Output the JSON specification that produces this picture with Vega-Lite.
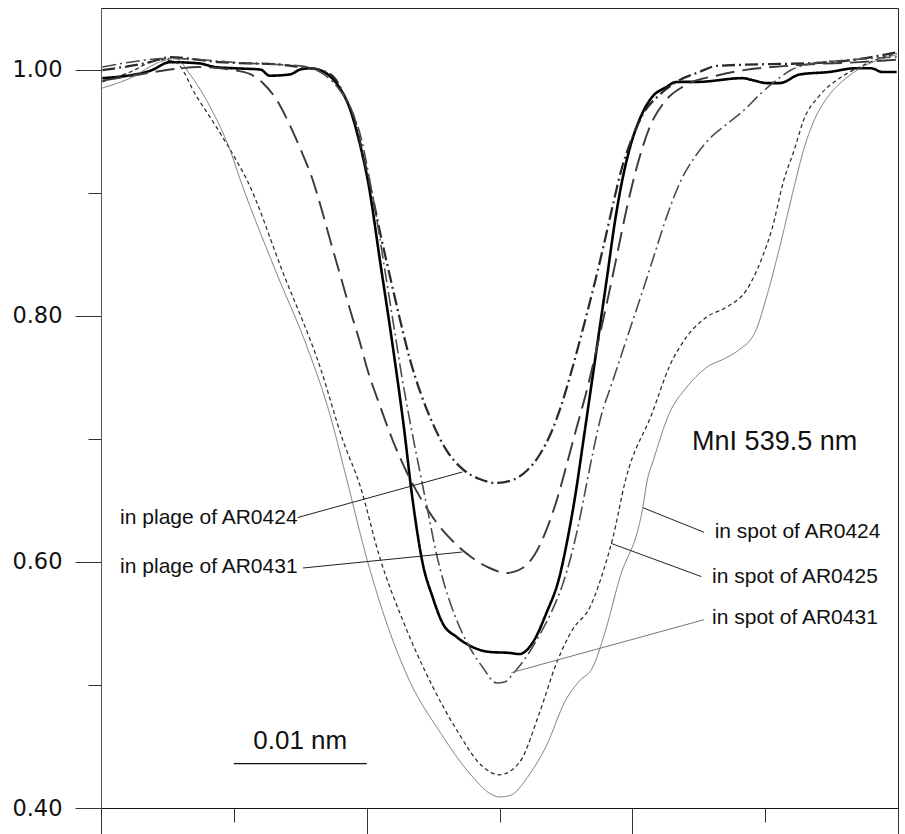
{
  "$schema": "https://vega.github.io/schema/vega-lite/v6.json",
  "width": 797,
  "height": 800,
  "autosize": {"type": "none"},
  "padding": {"left": 101, "top": 8, "right": 7, "bottom": 26},
  "background": "white",
  "config": {"view": {"stroke": "#222", "strokeWidth": 1}, "axis": {"grid": false}},
  "datasets": {
    "curves": [
      {"s":"quiet","x":-29.9,"y":0.993},{"s":"quiet","x":-26.3,"y":0.999},{"s":"quiet","x":-24.8,"y":1.006},{"s":"quiet","x":-22.6,"y":1.005},{"s":"quiet","x":-21.4,"y":1.002},{"s":"quiet","x":-19.9,"y":1.001},{"s":"quiet","x":-18.0,"y":1.0},{"s":"quiet","x":-17.3,"y":0.995},{"s":"quiet","x":-15.8,"y":0.996},{"s":"quiet","x":-15.0,"y":1.0},{"s":"quiet","x":-14.3,"y":1.001},{"s":"quiet","x":-13.53,"y":0.9996},{"s":"quiet","x":-12.78,"y":0.9948},{"s":"quiet","x":-12.03,"y":0.985},{"s":"quiet","x":-11.28,"y":0.9688},{"s":"quiet","x":-10.68,"y":0.9468},{"s":"quiet","x":-10.23,"y":0.9265},{"s":"quiet","x":-9.92,"y":0.9103},{"s":"quiet","x":-8.95,"y":0.8412},{"s":"quiet","x":-8.05,"y":0.7762},{"s":"quiet","x":-7.22,"y":0.7112},{"s":"quiet","x":-6.54,"y":0.6503},{"s":"quiet","x":-5.79,"y":0.5991},{"s":"quiet","x":-5.04,"y":0.5715},{"s":"quiet","x":-4.29,"y":0.5503},{"s":"quiet","x":-3.23,"y":0.539},{"s":"quiet","x":-2.03,"y":0.5308},{"s":"quiet","x":-0.75,"y":0.5268},{"s":"quiet","x":0.75,"y":0.526},{"s":"quiet","x":1.5,"y":0.5251},{"s":"quiet","x":2.48,"y":0.5341},{"s":"quiet","x":3.53,"y":0.5584},{"s":"quiet","x":4.51,"y":0.5877},{"s":"quiet","x":5.11,"y":0.6178},{"s":"quiet","x":5.71,"y":0.6543},{"s":"quiet","x":6.32,"y":0.699},{"s":"quiet","x":6.92,"y":0.7437},{"s":"quiet","x":7.52,"y":0.7884},{"s":"quiet","x":8.12,"y":0.8331},{"s":"quiet","x":8.65,"y":0.8737},{"s":"quiet","x":9.17,"y":0.9062},{"s":"quiet","x":9.77,"y":0.9346},{"s":"quiet","x":10.53,"y":0.959},{"s":"quiet","x":11.43,"y":0.9769},{"s":"quiet","x":12.56,"y":0.9858},{"s":"quiet","x":13.31,"y":0.9899},{"s":"quiet","x":15.0,"y":0.99},{"s":"quiet","x":18.3,"y":0.993},{"s":"quiet","x":19.0,"y":0.9915},{"s":"quiet","x":20.1,"y":0.989},{"s":"quiet","x":21.1,"y":0.989},{"s":"quiet","x":22.6,"y":0.996},{"s":"quiet","x":24.8,"y":0.998},{"s":"quiet","x":26.8,"y":1.001},{"s":"quiet","x":28.0,"y":1.001},{"s":"quiet","x":28.8,"y":0.998},{"s":"quiet","x":29.9,"y":0.998},

      {"s":"plage0424","x":-29.9,"y":0.9996},{"s":"plage0424","x":-26.3,"y":1.006},{"s":"plage0424","x":-24.8,"y":1.01},{"s":"plage0424","x":-21.1,"y":1.006},{"s":"plage0424","x":-16.5,"y":1.004},{"s":"plage0424","x":-15.0,"y":1.002},{"s":"plage0424","x":-13.5,"y":0.9996},{"s":"plage0424","x":-12.4,"y":0.993},{"s":"plage0424","x":-11.7,"y":0.979},{"s":"plage0424","x":-10.9,"y":0.959},{"s":"plage0424","x":-10.2,"y":0.927},{"s":"plage0424","x":-9.55,"y":0.8964},{"s":"plage0424","x":-8.95,"y":0.8656},{"s":"plage0424","x":-8.27,"y":0.833},{"s":"plage0424","x":-7.52,"y":0.7982},{"s":"plage0424","x":-6.77,"y":0.7656},{"s":"plage0424","x":-5.94,"y":0.7372},{"s":"plage0424","x":-5.04,"y":0.7128},{"s":"plage0424","x":-3.91,"y":0.6893},{"s":"plage0424","x":-2.78,"y":0.6754},{"s":"plage0424","x":-1.5,"y":0.6673},{"s":"plage0424","x":-0.23,"y":0.6641},{"s":"plage0424","x":0.98,"y":0.6665},{"s":"plage0424","x":2.03,"y":0.6738},{"s":"plage0424","x":3.01,"y":0.6868},{"s":"plage0424","x":3.91,"y":0.7055},{"s":"plage0424","x":4.66,"y":0.7274},{"s":"plage0424","x":5.34,"y":0.7518},{"s":"plage0424","x":6.02,"y":0.7786},{"s":"plage0424","x":6.69,"y":0.8063},{"s":"plage0424","x":7.37,"y":0.8355},{"s":"plage0424","x":7.97,"y":0.8631},{"s":"plage0424","x":8.57,"y":0.8916},{"s":"plage0424","x":9.17,"y":0.9184},{"s":"plage0424","x":9.92,"y":0.9427},{"s":"plage0424","x":10.9,"y":0.9655},{"s":"plage0424","x":12.03,"y":0.9793},{"s":"plage0424","x":13.31,"y":0.9899},{"s":"plage0424","x":15.04,"y":0.998},{"s":"plage0424","x":16.32,"y":1.0029},{"s":"plage0424","x":25.0,"y":1.006},{"s":"plage0424","x":29.9,"y":1.014},

      {"s":"plage0431","x":-29.9,"y":0.991},{"s":"plage0431","x":-27.1,"y":0.996},{"s":"plage0431","x":-24.8,"y":1.0},{"s":"plage0431","x":-22.6,"y":1.002},{"s":"plage0431","x":-20.08,"y":0.9996},{"s":"plage0431","x":-18.8,"y":0.9964},{"s":"plage0431","x":-17.82,"y":0.9891},{"s":"plage0431","x":-16.77,"y":0.9753},{"s":"plage0431","x":-15.79,"y":0.9549},{"s":"plage0431","x":-14.89,"y":0.933},{"s":"plage0431","x":-14.06,"y":0.9103},{"s":"plage0431","x":-13.38,"y":0.8859},{"s":"plage0431","x":-12.71,"y":0.8599},{"s":"plage0431","x":-11.95,"y":0.8314},{"s":"plage0431","x":-11.2,"y":0.803},{"s":"plage0431","x":-10.45,"y":0.7762},{"s":"plage0431","x":-10.0,"y":0.7583},{"s":"plage0431","x":-9.02,"y":0.7274},{"s":"plage0431","x":-8.05,"y":0.699},{"s":"plage0431","x":-6.99,"y":0.673},{"s":"plage0431","x":-5.86,"y":0.6503},{"s":"plage0431","x":-4.66,"y":0.6308},{"s":"plage0431","x":-3.38,"y":0.6153},{"s":"plage0431","x":-2.03,"y":0.6031},{"s":"plage0431","x":-0.75,"y":0.595},{"s":"plage0431","x":0.53,"y":0.591},{"s":"plage0431","x":1.73,"y":0.595},{"s":"plage0431","x":2.63,"y":0.6056},{"s":"plage0431","x":3.53,"y":0.6259},{"s":"plage0431","x":4.36,"y":0.6519},{"s":"plage0431","x":5.11,"y":0.6811},{"s":"plage0431","x":5.86,"y":0.7112},{"s":"plage0431","x":6.62,"y":0.7413},{"s":"plage0431","x":7.29,"y":0.7721},{"s":"plage0431","x":8.05,"y":0.8087},{"s":"plage0431","x":8.8,"y":0.8469},{"s":"plage0431","x":9.55,"y":0.8859},{"s":"plage0431","x":10.38,"y":0.9224},{"s":"plage0431","x":11.28,"y":0.9525},{"s":"plage0431","x":12.41,"y":0.9736},{"s":"plage0431","x":13.76,"y":0.9858},{"s":"plage0431","x":16.54,"y":0.9956},{"s":"plage0431","x":22.56,"y":1.0037},{"s":"plage0431","x":27.1,"y":1.006},{"s":"plage0431","x":29.9,"y":1.008},

      {"s":"spot0431","x":-29.9,"y":1.002},{"s":"spot0431","x":-24.8,"y":1.009},{"s":"spot0431","x":-18.8,"y":1.005},{"s":"spot0431","x":-15.0,"y":1.003},{"s":"spot0431","x":-13.16,"y":0.9956},{"s":"spot0431","x":-12.03,"y":0.9834},{"s":"spot0431","x":-11.13,"y":0.9671},{"s":"spot0431","x":-10.38,"y":0.9427},{"s":"spot0431","x":-9.77,"y":0.9103},{"s":"spot0431","x":-9.17,"y":0.8737},{"s":"spot0431","x":-8.57,"y":0.833},{"s":"spot0431","x":-7.97,"y":0.7924},{"s":"spot0431","x":-7.37,"y":0.7518},{"s":"spot0431","x":-6.69,"y":0.7112},{"s":"spot0431","x":-6.02,"y":0.6746},{"s":"spot0431","x":-5.41,"y":0.642},{"s":"spot0431","x":-4.81,"y":0.6096},{"s":"spot0431","x":-4.14,"y":0.5812},{"s":"spot0431","x":-3.23,"y":0.5528},{"s":"spot0431","x":-2.26,"y":0.5308},{"s":"spot0431","x":-1.28,"y":0.5146},{"s":"spot0431","x":-0.23,"y":0.5016},{"s":"spot0431","x":0.38,"y":0.5024},{"s":"spot0431","x":1.13,"y":0.5105},{"s":"spot0431","x":2.11,"y":0.5243},{"s":"spot0431","x":3.01,"y":0.5406},{"s":"spot0431","x":3.91,"y":0.5593},{"s":"spot0431","x":4.74,"y":0.5812},{"s":"spot0431","x":5.41,"y":0.6056},{"s":"spot0431","x":6.02,"y":0.634},{"s":"spot0431","x":6.54,"y":0.6624},{"s":"spot0431","x":7.07,"y":0.6909},{"s":"spot0431","x":7.67,"y":0.7193},{"s":"spot0431","x":8.42,"y":0.7437},{"s":"spot0431","x":9.17,"y":0.7681},{"s":"spot0431","x":9.92,"y":0.7924},{"s":"spot0431","x":10.75,"y":0.8193},{"s":"spot0431","x":11.65,"y":0.8493},{"s":"spot0431","x":12.63,"y":0.8818},{"s":"spot0431","x":13.68,"y":0.9103},{"s":"spot0431","x":14.81,"y":0.9306},{"s":"spot0431","x":15.94,"y":0.9452},{"s":"spot0431","x":17.14,"y":0.9558},{"s":"spot0431","x":18.42,"y":0.9671},{"s":"spot0431","x":19.55,"y":0.9793},{"s":"spot0431","x":20.68,"y":0.9899},{"s":"spot0431","x":21.95,"y":0.9996},{"s":"spot0431","x":23.31,"y":1.0045},{"s":"spot0431","x":26.32,"y":1.0078},{"s":"spot0431","x":29.92,"y":1.0102},

      {"s":"spot0425","x":-29.9,"y":0.99},{"s":"spot0425","x":-27.8,"y":0.998},{"s":"spot0425","x":-25.6,"y":1.008},{"s":"spot0425","x":-24.4,"y":1.006},{"s":"spot0425","x":-22.8,"y":0.978},{"s":"spot0425","x":-21.3,"y":0.953},{"s":"spot0425","x":-19.8,"y":0.926},{"s":"spot0425","x":-19.0,"y":0.91},{"s":"spot0425","x":-16.3,"y":0.835},{"s":"spot0425","x":-13.5,"y":0.758},{"s":"spot0425","x":-11.8,"y":0.699},{"s":"spot0425","x":-10.5,"y":0.662},{"s":"spot0425","x":-9.0,"y":0.603},{"s":"spot0425","x":-7.3,"y":0.553},{"s":"spot0425","x":-5.0,"y":0.498},{"s":"spot0425","x":-3.2,"y":0.463},{"s":"spot0425","x":-1.3,"y":0.434},{"s":"spot0425","x":0.0,"y":0.427},{"s":"spot0425","x":1.5,"y":0.437},{"s":"spot0425","x":3.0,"y":0.477},{"s":"spot0425","x":4.3,"y":0.518},{"s":"spot0425","x":5.5,"y":0.545},{"s":"spot0425","x":6.8,"y":0.563},{"s":"spot0425","x":8.0,"y":0.599},{"s":"spot0425","x":8.5,"y":0.618},{"s":"spot0425","x":9.5,"y":0.667},{"s":"spot0425","x":11.5,"y":0.721},{"s":"spot0425","x":12.8,"y":0.759},{"s":"spot0425","x":14.1,"y":0.783},{"s":"spot0425","x":15.6,"y":0.799},{"s":"spot0425","x":17.1,"y":0.807},{"s":"spot0425","x":18.6,"y":0.821},{"s":"spot0425","x":19.8,"y":0.848},{"s":"spot0425","x":20.5,"y":0.87},{"s":"spot0425","x":21.4,"y":0.91},{"s":"spot0425","x":22.2,"y":0.935},{"s":"spot0425","x":22.9,"y":0.959},{"s":"spot0425","x":24.1,"y":0.979},{"s":"spot0425","x":25.6,"y":0.993},{"s":"spot0425","x":27.1,"y":1.002},{"s":"spot0425","x":28.6,"y":1.009},{"s":"spot0425","x":29.9,"y":1.013},

      {"s":"spot0424","x":-29.9,"y":0.985},{"s":"spot0424","x":-27.8,"y":0.993},{"s":"spot0424","x":-25.6,"y":1.006},{"s":"spot0424","x":-24.4,"y":1.009},{"s":"spot0424","x":-23.3,"y":0.996},{"s":"spot0424","x":-21.8,"y":0.97},{"s":"spot0424","x":-20.3,"y":0.935},{"s":"spot0424","x":-19.5,"y":0.91},{"s":"spot0424","x":-16.8,"y":0.835},{"s":"spot0424","x":-14.5,"y":0.775},{"s":"spot0424","x":-12.8,"y":0.721},{"s":"spot0424","x":-11.5,"y":0.667},{"s":"spot0424","x":-10.0,"y":0.603},{"s":"spot0424","x":-8.8,"y":0.56},{"s":"spot0424","x":-6.8,"y":0.504},{"s":"spot0424","x":-4.5,"y":0.462},{"s":"spot0424","x":-2.0,"y":0.425},{"s":"spot0424","x":-0.75,"y":0.412},{"s":"spot0424","x":0.0,"y":0.409},{"s":"spot0424","x":0.75,"y":0.41},{"s":"spot0424","x":2.3,"y":0.428},{"s":"spot0424","x":3.5,"y":0.45},{"s":"spot0424","x":5.0,"y":0.488},{"s":"spot0424","x":6.0,"y":0.503},{"s":"spot0424","x":7.0,"y":0.514},{"s":"spot0424","x":8.0,"y":0.545},{"s":"spot0424","x":9.0,"y":0.585},{"s":"spot0424","x":10.8,"y":0.645},{"s":"spot0424","x":11.1,"y":0.665},{"s":"spot0424","x":11.6,"y":0.683},{"s":"spot0424","x":12.8,"y":0.721},{"s":"spot0424","x":14.1,"y":0.742},{"s":"spot0424","x":15.6,"y":0.758},{"s":"spot0424","x":17.1,"y":0.766},{"s":"spot0424","x":18.0,"y":0.772},{"s":"spot0424","x":19.3,"y":0.788},{"s":"spot0424","x":20.1,"y":0.815},{"s":"spot0424","x":21.1,"y":0.856},{"s":"spot0424","x":22.3,"y":0.91},{"s":"spot0424","x":22.9,"y":0.935},{"s":"spot0424","x":23.7,"y":0.959},{"s":"spot0424","x":24.8,"y":0.979},{"s":"spot0424","x":26.1,"y":0.993},{"s":"spot0424","x":27.3,"y":1.002},{"s":"spot0424","x":28.6,"y":1.008},{"s":"spot0424","x":29.9,"y":1.012}
    ],
    "leaders": [
      {"label":"in plage of AR0424","x":-15.2,"y":0.636,"x2":-2.8,"y2":0.673},
      {"label":"in plage of AR0431","x":-14.8,"y":0.595,"x2":-2.8,"y2":0.608},
      {"label":"in spot of AR0424","x":10.8,"y":0.644,"x2":15.4,"y2":0.624},
      {"label":"in spot of AR0425","x":8.4,"y":0.615,"x2":15.2,"y2":0.588},
      {"label":"in spot of AR0431","x":0.9,"y":0.51,"x2":15.4,"y2":0.553}
    ],
    "leftLabels": [
      {"label":"in plage of AR0424","x":-15.05,"y":0.636},
      {"label":"in plage of AR0431","x":-15.05,"y":0.596}
    ],
    "rightLabels": [
      {"label":"in spot of AR0424","x":16.2,"y":0.624},
      {"label":"in spot of AR0425","x":16.0,"y":0.588},
      {"label":"in spot of AR0431","x":16.0,"y":0.554}
    ],
    "title": [{"label":"MnI 539.5 nm","x":14.5,"y":0.697}],
    "scalebar": [{"label":"0.01 nm","x":-20,"x2":-10,"xm":-15,"y":0.436,"yt":0.448}]
  },
  "resolve": {"axis": {"x": "independent", "y": "independent"}},
  "layer": [
    {
      "data": {"name": "curves"},
      "mark": {"type": "line", "interpolate": "monotone", "clip": true},
      "encoding": {
        "x": {"field": "x", "type": "quantitative", "scale": {"domain": [-30, 30], "nice": false, "zero": false},
              "axis": {"orient": "bottom", "title": null, "values": [-30, -10, 10, 30], "tickSize": 26, "labels": false, "domainColor": "#111", "tickColor": "#333", "domainWidth": 1.2}},
        "y": {"field": "y", "type": "quantitative", "scale": {"domain": [0.4, 1.05], "nice": false, "zero": false},
              "axis": {"orient": "left", "title": null, "values": [0.4, 0.6, 0.8, 1.0], "format": ".2f", "tickSize": 26, "labelFont": "DejaVu Sans", "labelFontSize": 22.5, "labelColor": "#111", "labelPadding": 13, "domainColor": "#555", "tickColor": "#333"}},
        "detail": {"field": "s"},
        "color": {"field": "s", "type": "nominal", "legend": null,
                  "scale": {"domain": ["quiet", "plage0424", "plage0431", "spot0431", "spot0425", "spot0424"], "range": ["#000000", "#2a2a2a", "#3a3a3a", "#4a4a4a", "#2a2a2a", "#666666"]}},
        "strokeDash": {"field": "s", "type": "nominal", "legend": null,
                  "scale": {"domain": ["quiet", "plage0424", "plage0431", "spot0431", "spot0425", "spot0424"], "range": [[1, 0], [13, 4, 2, 4], [19, 8], [14, 4, 2, 4], [4, 3], [1, 0]]}},
        "strokeWidth": {"field": "s", "type": "nominal", "legend": null,
                  "scale": {"domain": ["quiet", "plage0424", "plage0431", "spot0431", "spot0425", "spot0424"], "range": [2.6, 0.9, 1, 0.9, 1, 1]}}
      }
    },
    {
      "data": {"name": "leaders"},
      "mark": {"type": "rule", "strokeWidth": 1},
      "encoding": {
        "x": {"field": "x", "type": "quantitative", "scale": {"domain": [-30, 30], "nice": false, "zero": false},
              "axis": {"orient": "bottom", "title": null, "values": [-20, 0, 20], "tickSize": 14, "labels": false, "domain": false, "tickColor": "#333"}},
        "y": {"field": "y", "type": "quantitative", "scale": {"domain": [0.4, 1.05], "nice": false, "zero": false},
              "axis": {"orient": "left", "title": null, "values": [0.5, 0.7, 0.9], "tickSize": 13, "labels": false, "domain": false, "tickColor": "#333"}},
        "x2": {"field": "x2"},
        "y2": {"field": "y2"},
        "color": {"condition": {"test": "datum.label === 'in spot of AR0431'", "value": "#777777"}, "value": "#222222"}
      }
    },
    {
      "data": {"name": "scalebar"},
      "mark": {"type": "rule", "strokeWidth": 1.2, "color": "#111"},
      "encoding": {
        "x": {"field": "x", "type": "quantitative", "axis": null},
        "x2": {"field": "x2"},
        "y": {"field": "y", "type": "quantitative", "axis": null}
      }
    },
    {
      "data": {"name": "scalebar"},
      "mark": {"type": "text", "font": "Liberation Sans", "fontSize": 26, "align": "center", "baseline": "alphabetic", "color": "#111"},
      "encoding": {
        "x": {"field": "xm", "type": "quantitative", "axis": null},
        "y": {"field": "yt", "type": "quantitative", "axis": null},
        "text": {"field": "label"}
      }
    },
    {
      "data": {"name": "leftLabels"},
      "mark": {"type": "text", "font": "Liberation Sans", "fontSize": 21, "align": "right", "baseline": "middle", "dx": -2, "color": "#111"},
      "encoding": {
        "x": {"field": "x", "type": "quantitative", "axis": null},
        "y": {"field": "y", "type": "quantitative", "axis": null},
        "text": {"field": "label"}
      }
    },
    {
      "data": {"name": "rightLabels"},
      "mark": {"type": "text", "font": "Liberation Sans", "fontSize": 21, "align": "left", "baseline": "middle", "color": "#111"},
      "encoding": {
        "x": {"field": "x", "type": "quantitative", "axis": null},
        "y": {"field": "y", "type": "quantitative", "axis": null},
        "text": {"field": "label"}
      }
    },
    {
      "data": {"name": "title"},
      "mark": {"type": "text", "font": "Liberation Sans", "fontSize": 27, "align": "left", "baseline": "middle", "color": "#111"},
      "encoding": {
        "x": {"field": "x", "type": "quantitative", "axis": null},
        "y": {"field": "y", "type": "quantitative", "axis": null},
        "text": {"field": "label"}
      }
    }
  ]
}
